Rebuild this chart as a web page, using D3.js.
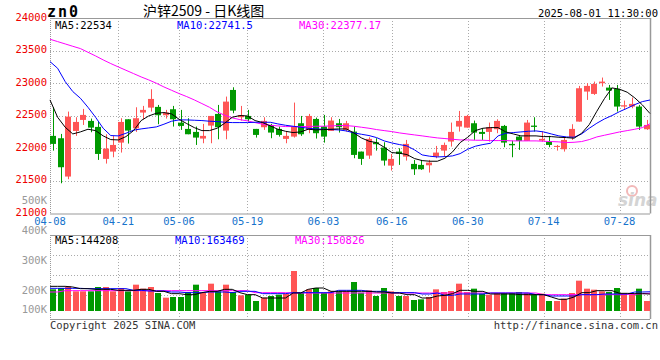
<!DOCTYPE html>
<html>
<head>
<meta charset="utf-8">
<script src="https://cdn.jsdelivr.net/npm/d3@7"></script>
<style>
  html, body { margin: 0; padding: 0; background: #fff; }
  svg text { font-family: "DejaVu Sans Mono", monospace; }
</style>
</head>
<body>
<div id="chart"></div>
<script>
// trading days shown (MM-DD)
var dates = ["04-08","04-09","04-10","04-11","04-14","04-15","04-16","04-17","04-18","04-21","04-22","04-23","04-24","04-25","04-28","04-29","04-30",
  "05-06","05-07","05-08","05-09","05-12","05-13","05-14","05-15","05-16","05-19","05-20","05-21","05-22","05-23","05-26","05-27","05-28","05-29","05-30",
  "06-03","06-04","06-05","06-06","06-09","06-10","06-11","06-12","06-13","06-16","06-17","06-18","06-19","06-20","06-23","06-24","06-25","06-26","06-27","06-30",
  "07-01","07-02","07-03","07-04","07-07","07-08","07-09","07-10","07-11","07-14","07-15","07-16","07-17","07-18","07-21","07-22","07-23","07-24","07-25","07-28","07-29","07-30","07-31",
  "08-01"];

var open  = [22191,22155,21567,22267,22436,22421,22329,21838,21950,22088,22446,22308,22549,22625,22636,22508,22600,22395,22298,22252,
  22150,22349,22528,22272,22896,22477,22497,22298,22324,22359,22298,22145,22180,22385,22283,22451,22334,22267,22385,22283,
  22257,21950,21889,22093,22012,21735,21950,21873,21761,21746,21740,21873,21965,22104,22334,22318,22385,22252,22252,22293,
  22344,22068,22180,22114,22349,22119,22104,22022,21986,22170,22410,22871,22835,22999,22932,22912,22641,22641,22641,22293];
var high  = [22630,22221,22564,22477,22605,22457,22405,22216,22191,22462,22446,22630,22651,22907,22666,22590,22651,22590,22462,22334,
  22375,22497,22666,22794,22937,22651,22590,22298,22477,22375,22334,22257,22702,22497,22528,22472,22513,22477,22451,22421,
  22334,21950,22170,22155,22093,21914,22001,22129,21822,21822,21822,22037,22088,22395,22574,22513,22426,22308,22395,22446,
  22359,22119,22191,22436,22477,22257,22191,22052,22170,22370,22958,22999,23024,23086,22973,22973,22733,22779,22666,22436];
var low   = [21965,21464,21526,22191,22359,22247,21822,21766,21863,21935,22073,22252,22446,22564,22370,22457,22334,22283,22216,22052,
  22078,22078,22139,22139,22538,22426,22411,22165,22283,22155,22180,22078,22165,22191,22232,22150,22088,22267,22242,22257,
  21848,21746,21838,21965,21735,21659,21746,21812,21592,21669,21628,21848,21874,22027,22257,22318,22129,22129,22104,22232,
  22017,21863,21976,22114,22257,22104,22017,21965,21950,22129,22410,22743,22820,22948,22743,22564,22600,22615,22283,22283];
var close = [22068,21710,22487,22405,22513,22318,21914,21996,22052,22405,22272,22462,22590,22758,22508,22549,22446,22344,22216,22165,
  22191,22497,22324,22717,22579,22508,22446,22206,22421,22242,22206,22191,22334,22216,22497,22232,22180,22426,22324,22385,
  21899,21838,22145,22063,21812,21838,21914,22068,21679,21679,21781,21935,22052,22252,22421,22497,22242,22221,22324,22421,
  22088,22047,22114,22395,22329,22145,22052,22037,22129,22298,22922,22958,22988,23024,22886,22641,22661,22682,22334,22359];

// price moving averages
var ma5  = [22743,22477,22324,22221,22252,22293,22272,22191,22134,22129,22180,22272,22426,22497,22538,22549,22528,22446,22380,22318,
  22272,22272,22308,22385,22477,22503,22497,22426,22395,22344,22293,22262,22242,22252,22293,22283,22288,22293,22298,22298,
  22237,22160,22109,22088,22017,21935,21925,21904,21843,21812,21802,21802,21848,21945,22088,22170,22272,22308,22318,22318,
  22252,22221,22191,22191,22191,22180,22180,22170,22165,22155,22231,22364,22569,22763,22927,22907,22861,22774,22666,22534];
var ma10 = [23331,23229,23024,22871,22769,22630,22477,22308,22196,22191,22231,22278,22298,22313,22329,22370,22416,22436,22436,22431,
  22426,22416,22411,22400,22395,22395,22395,22400,22400,22400,22375,22354,22339,22324,22308,22298,22293,22288,22283,22267,
  22237,22216,22196,22165,22114,22083,22058,22037,21976,21899,21879,21868,21873,21884,21919,21986,22032,22058,22078,22191,
  22231,22242,22252,22262,22267,22252,22221,22191,22175,22170,22221,22308,22385,22451,22503,22564,22615,22671,22717,22741.5];
var ma30 = [23674,23638,23602,23566,23531,23474,23418,23357,23301,23249,23198,23147,23096,23050,22999,22942,22891,22840,22794,22743,
  22687,22630,22559,22508,22467,22441,22421,22395,22370,22354,22344,22334,22334,22334,22334,22339,22339,22344,22349,22349,
  22339,22324,22308,22288,22272,22257,22237,22221,22206,22191,22175,22160,22150,22139,22129,22129,22124,22124,22119,22119,
  22119,22114,22114,22114,22114,22109,22104,22099,22088,22093,22104,22134,22175,22201,22226,22252,22272,22293,22318,22377.17];

// volume and its moving averages
var volume = [184100,195500,209600,167100,167100,167100,204000,204000,167100,195500,167100,223800,189800,204000,153000,113300,119000,119000,161500,223800,
  153000,232300,167100,223800,161500,133200,138800,85000,113300,127500,138800,147300,340000,155800,184100,195500,153000,167100,167100,167100,
  246500,155800,175600,127500,195500,167100,127500,127500,93500,99200,119000,184100,161500,170000,232300,161500,189800,147300,138800,153000,
  153000,153000,161500,153000,138800,147300,85000,85000,104800,153000,257800,189800,181300,167100,161500,195500,147300,147300,189800,85000];
var vma5  = [209600,209600,209600,204000,189800,189800,184100,184100,184100,175600,175600,175600,184100,184100,167100,167100,147300,147300,138800,138800,
  155800,167100,167100,184100,184100,155800,138800,138800,110500,110500,110500,110500,153000,153000,184100,195500,195500,167100,167100,167100,
  167100,167100,167100,161500,161500,153000,153000,138800,138800,110500,110500,127500,133200,147300,175600,175600,167100,167100,144500,144500,
  144500,144500,138800,138800,138800,138800,119000,99200,99200,119000,155800,155800,172800,172800,172800,150100,150100,147300,147300,144208];
var vma10 = [192600,192600,192600,192600,192600,189800,189800,189800,189800,189800,189800,175600,175600,170000,170000,170000,161500,161500,155800,155800,
  155800,161500,161500,161500,155800,167100,167100,167100,147300,147300,147300,147300,155800,155800,155800,155800,155800,155800,175600,175600,
  175600,175600,167100,167100,167100,155800,155800,155800,155800,144500,144500,153000,133200,133200,144500,144500,144500,144500,153000,153000,
  153000,153000,153000,153000,138800,138800,127500,127500,127500,127500,138800,138800,138800,144500,144500,144500,144500,161500,161500,163469];
var vma30 = [161500,161500,172800,172800,172800,172800,172800,172800,172800,172800,172800,172800,172800,172800,172800,172800,172800,172800,172800,172800,
  172800,172800,172800,172800,172800,172800,172800,155800,155800,155800,155800,155800,153000,153000,153000,153000,153000,153000,153000,153000,
  153000,153000,153000,153000,153000,153000,153000,153000,153000,153000,153000,153000,153000,153000,153000,153000,153000,153000,153000,153000,
  153000,153000,153000,153000,153000,138800,138800,138800,138800,138800,138800,138800,138800,138800,138800,138800,141700,141700,147300,150826];

var dateTicks = ["04-08","04-21","05-06","05-19","06-03","06-16","06-30","07-14","07-28"];
var priceTicks = [21000,21500,22000,22500,23000,23500,24000];
var volTicks = [500000,400000,300000,200000,100000];

var w = 660, h = 360;
var left = 50, right = 650;
var pTop = 18, pBottom = 213.5;
var vTop = 235, vBase = 311, vBottom = 319;
var UP = "#ff5555", DOWN = "#009900", GRID = "#aaaaaa";

var svg = d3.select("#chart").append("svg")
    .attr("width", w)
    .attr("height", h);

var idx = d3.range(dates.length);

// candle slots and point positions for grid/lines
var xBand = d3.scaleBand().domain(idx).range([left, right]).paddingInner(0.2);
var xPoint = d3.scalePoint().domain(idx).range([left, right]);

var y = d3.scaleLinear().domain([21000, 24000]).range([pBottom, pTop]);
var vy = d3.scaleLinear().domain([0, 646000]).range([vBase, vTop]);
// the volume labels on the left sit on their own spacing
var vLabelY = d3.scaleLinear().domain([200000, 300000]).range([291, 261]);

// ---- header
svg.append("text").attr("x", 47).attr("y", 17)
    .attr("font-size", "15px").attr("font-weight", "bold")
    .attr("letter-spacing", "2px").attr("fill", "#000").text("zn0");
svg.append("text").attr("x", 143).attr("y", 16)
    .attr("font-size", "14px").attr("fill", "#000")
    .style("font-family", "'Noto Sans CJK SC', sans-serif")
    .text("沪锌2509 - 日K线图");
svg.append("text").attr("x", 658).attr("y", 17).attr("text-anchor", "end")
    .attr("font-size", "10.5px").attr("fill", "#000").text("2025-08-01 11:30:00");

// ---- grids
var gridX = dateTicks.map(function(d) { return xPoint(dates.indexOf(d)); });

svg.append("g").selectAll("line")
    .data(priceTicks.slice(1, -1))
    .enter().append("line")
    .attr("x1", left).attr("x2", right)
    .attr("y1", function(d) { return Math.round(y(d)) + 0.5; })
    .attr("y2", function(d) { return Math.round(y(d)) + 0.5; })
    .attr("stroke", GRID).attr("stroke-dasharray", "1,2");

svg.append("g").selectAll("line")
    .data([1, 2, 3])
    .enter().append("line")
    .attr("x1", left).attr("x2", right)
    .attr("y1", function(k) { return vTop + k * 20 + 0.5; })
    .attr("y2", function(k) { return vTop + k * 20 + 0.5; })
    .attr("stroke", GRID).attr("stroke-dasharray", "1,2");

var vg = svg.append("g");
gridX.slice(1).forEach(function(x) {
    var xx = Math.round(x) + 0.5;
    vg.append("line").attr("x1", xx).attr("x2", xx).attr("y1", pTop).attr("y2", pBottom)
        .attr("stroke", GRID).attr("stroke-dasharray", "1,2");
    vg.append("line").attr("x1", xx).attr("x2", xx).attr("y1", vTop).attr("y2", vBottom + 3)
        .attr("stroke", GRID).attr("stroke-dasharray", "1,2");
});

// sina watermark
svg.append("circle").attr("cx", 632).attr("cy", 191).attr("r", 5)
    .attr("fill", "none").attr("stroke", "#f2b8b8").attr("stroke-width", 2);
svg.append("text").attr("x", 618).attr("y", 206)
    .attr("font-size", "17px").attr("font-weight", "bold").attr("font-style", "italic")
    .attr("fill", "#d4d4d4").style("font-family", "'DejaVu Sans', sans-serif").text("sina");

// ---- panel frames
function frame(t, b) {
    svg.append("line").attr("x1", left).attr("x2", right).attr("y1", t + 0.5).attr("y2", t + 0.5).attr("stroke", "#999");
    svg.append("line").attr("x1", left).attr("x2", right).attr("y1", b + 0.5).attr("y2", b + 0.5).attr("stroke", "#999");
    svg.append("line").attr("x1", left + 0.5).attr("x2", left + 0.5).attr("y1", t).attr("y2", b)
        .attr("stroke", "#999").attr("stroke-dasharray", "1,1");
    svg.append("line").attr("x1", right + 0.5).attr("x2", right + 0.5).attr("y1", t).attr("y2", b)
        .attr("stroke", "#999").attr("stroke-width", 1.5);
}
frame(pTop, pBottom);
frame(vTop, vBottom);

// ---- candles
var bw = Math.round(xBand.bandwidth());
var candles = svg.append("g").selectAll("g")
    .data(idx)
    .enter().append("g");

candles.append("line")
    .attr("x1", function(i) { return Math.round(xBand(i) + bw / 2) + 0.5; })
    .attr("x2", function(i) { return Math.round(xBand(i) + bw / 2) + 0.5; })
    .attr("y1", function(i) { return y(high[i]); })
    .attr("y2", function(i) { return y(low[i]); })
    .attr("stroke", function(i) { return close[i] >= open[i] ? UP : DOWN; });

candles.append("rect")
    .attr("x", function(i) { return Math.round(xBand(i)); })
    .attr("width", bw)
    .attr("y", function(i) { return y(Math.max(open[i], close[i])); })
    .attr("height", function(i) { return Math.max(1, Math.abs(y(open[i]) - y(close[i]))); })
    .attr("fill", function(i) { return close[i] >= open[i] ? UP : DOWN; });

// ---- volume bars
svg.append("g").selectAll("rect")
    .data(idx)
    .enter().append("rect")
    .attr("x", function(i) { return Math.round(xBand(i)); })
    .attr("width", bw)
    .attr("y", function(i) { return vy(volume[i]); })
    .attr("height", function(i) { return vBase - vy(volume[i]); })
    .attr("fill", function(i) { return close[i] >= open[i] ? UP : DOWN; });

// ---- moving average lines
function maLine(arr, scale, color) {
    var line = d3.line()
        .x(function(d, i) { return xPoint(i); })
        .y(function(d) { return scale(d); });
    svg.append("path").datum(arr)
        .attr("d", line)
        .attr("fill", "none")
        .attr("stroke", color)
        .attr("stroke-width", 1);
}
maLine(ma30, y, "#ff00ff");
maLine(ma10, y, "#0000ff");
maLine(ma5, y, "#000000");
maLine(vma30, vy, "#ff00ff");
maLine(vma10, vy, "#0000ff");
maLine(vma5, vy, "#000000");

// ---- legends
function legend(yPos, items) {
    items.forEach(function(it) {
        svg.append("text").attr("x", it[0]).attr("y", yPos)
            .attr("font-size", "10.5px").attr("fill", it[2]).text(it[1]);
    });
}
legend(29, [[55, "MA5:" + ma5[ma5.length - 1], "#000"],
            [177, "MA10:" + ma10[ma10.length - 1], "#0000ff"],
            [299, "MA30:" + ma30[ma30.length - 1], "#ff00ff"]]);
legend(244, [[55, "MA5:" + vma5[vma5.length - 1], "#000"],
             [175, "MA10:" + vma10[vma10.length - 1], "#0000ff"],
             [295, "MA30:" + vma30[vma30.length - 1], "#ff00ff"]]);

// ---- price labels
svg.append("g").selectAll("text")
    .data(priceTicks)
    .enter().append("text")
    .attr("x", 47)
    .attr("y", function(d) { return y(d) + 2.5; })
    .attr("text-anchor", "end")
    .attr("font-size", "10.5px")
    .attr("fill", "#ee0000")
    .text(function(d) { return d; });

// ---- volume labels
svg.append("g").selectAll("text")
    .data(volTicks)
    .enter().append("text")
    .attr("x", 47)
    .attr("y", function(d) { return Math.min(vLabelY(d), vBase - 1) + 3; })
    .attr("text-anchor", "end")
    .attr("font-size", "10.5px")
    .attr("fill", "#999")
    .text(function(d) { return (d / 1000) + "K"; });

// ---- date labels
svg.append("g").selectAll("text")
    .data(dateTicks)
    .enter().append("text")
    .attr("x", function(d) { return xPoint(dates.indexOf(d)); })
    .attr("y", 225)
    .attr("text-anchor", "middle")
    .attr("font-size", "10.5px")
    .attr("fill", "#1673cc")
    .text(function(d) { return d; });

// ---- footer
svg.append("text").attr("x", 50).attr("y", 329)
    .attr("font-size", "10.5px").attr("fill", "#333").text("Copyright 2025 SINA.COM");
svg.append("text").attr("x", 658).attr("y", 329).attr("text-anchor", "end")
    .attr("font-size", "10.5px").attr("fill", "#333").text("http://finance.sina.com.cn");
</script>
</body>
</html>
